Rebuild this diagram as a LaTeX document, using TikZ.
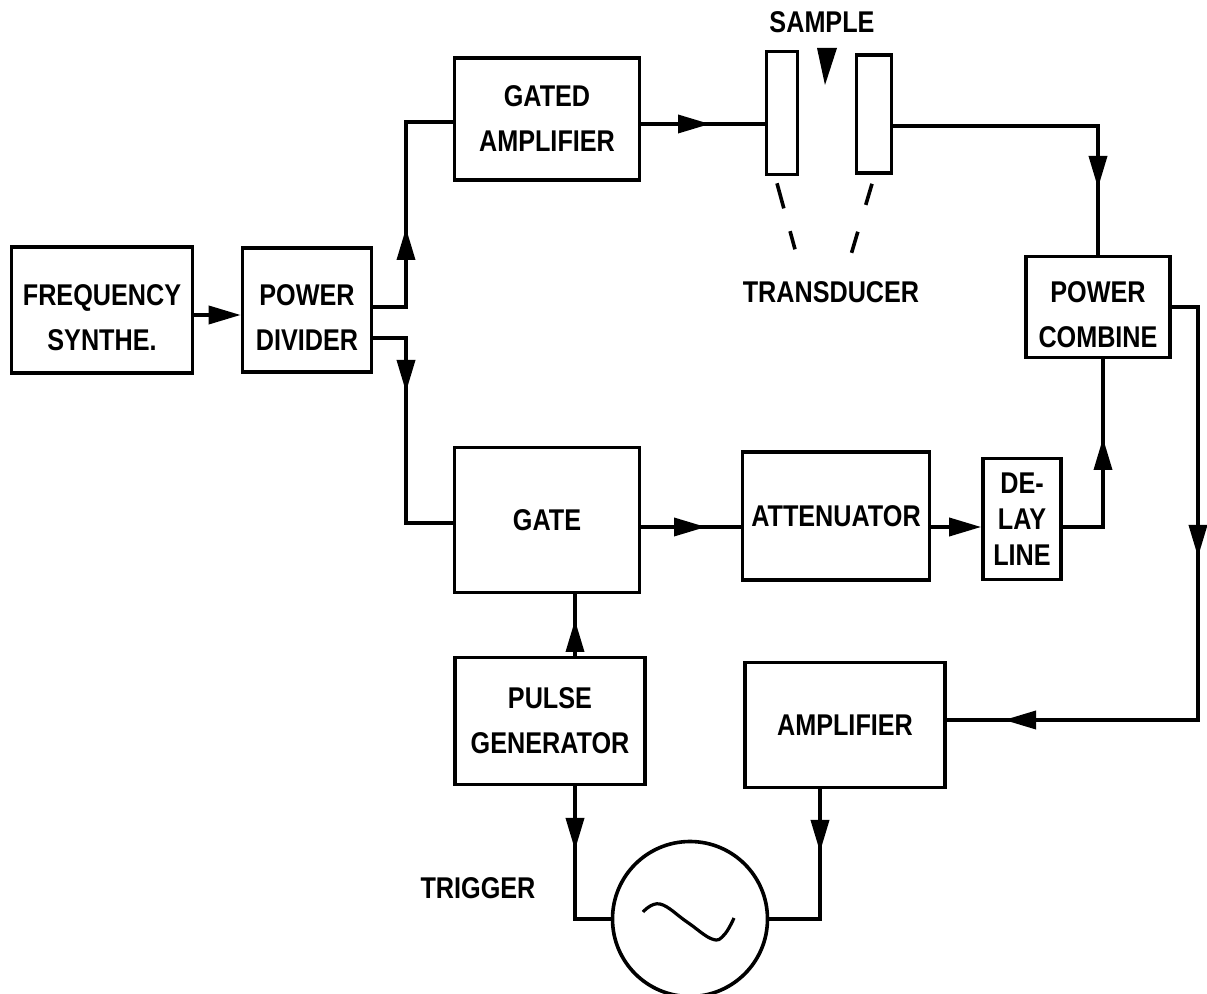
\documentclass[tikz,border=0pt]{standalone}
\usepackage{fontspec}
\setmainfont{Liberation Sans}[FakeStretch=0.84]
\usetikzlibrary{arrows.meta, positioning}

\begin{document}
\begin{tikzpicture}[x=0.5pt, y=-0.5pt,
  blk/.style={draw, line width=1.8pt, align=center, inner sep=0pt,
    font=\bfseries\fontsize{15}{22.5}\selectfont},
  lbl/.style={font=\bfseries\fontsize{15}{22.5}\selectfont},
  wire/.style={line width=1.8pt},
  fwd/.style={wire, -{Triangle[length=16pt, width=9pt]}},
  lead/.style={line width=1.8pt}]
  \useasboundingbox (0,0) rectangle (1207,994);

  % blocks
  \node[blk, minimum width=90.5pt, minimum height=63pt] (synth) at (102,310) {\rule{0pt}{18pt}FREQUENCY\\SYNTHE.};
  \node[blk, minimum width=64.5pt, minimum height=62pt] (divider) at (307,310) {\rule{0pt}{18pt}POWER\\DIVIDER};
  \node[blk, minimum width=92.5pt, minimum height=61pt] (gamp) at (547,119) {GATED\\AMPLIFIER};
  \node[blk, minimum width=15.5pt, minimum height=61.5pt] (tdL) at (782,113) {};
  \node[blk, minimum width=17.5pt, minimum height=59pt] (tdR) at (874,114) {};
  \node[blk, minimum width=72pt, minimum height=50.5pt] (pcomb) at (1098,307) {\rule{0pt}{18pt}POWER\\COMBINE};
  \node[blk, minimum width=92.5pt, minimum height=72.5pt] (gate) at (547,520) {GATE};
  \node[blk, minimum width=93.5pt, minimum height=64pt] (atten) at (836,516) {ATTENUATOR};
  \node[blk, minimum width=39pt, minimum height=60.5pt, font=\bfseries\fontsize{15}{18}\selectfont] (delay) at (1022,519) {DE-\\LAY\\LINE};
  \node[blk, minimum width=95pt, minimum height=63.5pt] (pulse) at (550,721) {PULSE\\GENERATOR};
  \node[blk, minimum width=100pt, minimum height=62.5pt] (amp) at (845,725) {AMPLIFIER};
  \node[draw, circle, line width=1.8pt, minimum size=77.5pt, inner sep=0pt] (osc) at (690,919) {};

  % labels
  \node[lbl] (sample) at (822,22) {SAMPLE};
  \node[lbl] (trans) at (831,292) {TRANSDUCER};
  \node[lbl] (trig) at (478,888) {TRIGGER};

  % bends and arrow tips
  \coordinate (splitU) at (406,307);
  \coordinate (splitD) at (406,338);
  \coordinate (cornerU) at (406,122);
  \coordinate (cornerD) at (406,523);
  \coordinate (cornerC) at (1098,126);
  \coordinate (cornerE) at (1198,720);
  \coordinate (cornerF) at (1198,307);
  \coordinate (cornerG) at (1103,527);
  \coordinate (tipU) at (406,228);
  \coordinate (tipD) at (406,392);
  \coordinate (tipT) at (710,124);
  \coordinate (tipC) at (1098,188);
  \coordinate (tipF) at (1198,557);
  \coordinate (tipE) at (1004,720);
  \coordinate (tipG) at (1103,438);
  \coordinate (tipA) at (706,527);
  \coordinate (tipP) at (575,620);
  \coordinate (tipQ) at (575,850);
  \coordinate (tipR) at (820,852);

  % connectors
  \draw[fwd] ([yshift=-2.5pt]synth.east) -- ([yshift=-2.5pt]divider.west);
  \draw[wire] ([yshift=1.5pt]divider.east) -| (cornerU) -- (cornerU -| gamp.west);
  \draw[fwd] (splitU) -- (tipU);
  \draw[wire] ([yshift=-14pt]divider.east) -| (cornerD) -- (cornerD -| gate.west);
  \draw[fwd] (splitD) -- (tipD);
  \draw[wire] ([yshift=-2.5pt]gamp.east) -- ([yshift=-2.5pt]gamp.east -| tdL.west);
  \draw[fwd] ([yshift=-2.5pt]gamp.east) -- (tipT);
  \draw[wire] ([yshift=-6pt]tdR.east) -- (cornerC) -- (pcomb.north);
  \draw[fwd] (cornerC) -- (tipC);
  \draw[wire] (pcomb.east) -- (cornerF) -- (cornerE) -- ([yshift=2.5pt]amp.east);
  \draw[fwd] (cornerF) -- (tipF);
  \draw[fwd] (cornerE) -- (tipE);
  \draw[wire] ([xshift=2.5pt]pcomb.south) -- (cornerG) -- (cornerG -| delay.east);
  \draw[fwd] (cornerG) -- (tipG);
  \draw[wire] ([yshift=-3.5pt]gate.east) -- ([yshift=-3.5pt]gate.east -| atten.west);
  \draw[fwd] ([yshift=-3.5pt]gate.east) -- (tipA);
  \draw[fwd] ([yshift=-5.5pt]atten.east) -- ([yshift=-5.5pt]atten.east -| delay.west);
  \draw[wire] ([xshift=12.5pt]pulse.north) -- ([xshift=12.5pt]pulse.north |- gate.south);
  \draw[fwd] ([xshift=12.5pt]pulse.north) -- (tipP);
  \draw[wire] ([xshift=12.5pt]pulse.south) |- (osc.west);
  \draw[fwd] ([xshift=12.5pt]pulse.south) -- (tipQ);
  \draw[wire] ([xshift=-12.5pt]amp.south) |- (osc.east);
  \draw[fwd] ([xshift=-12.5pt]amp.south) -- (tipR);

  % sample marker and transducer leads
  \fill (817,48) -- (837,48) -- (825,85) -- cycle;
  \draw[lead, dash pattern=on 13pt off 11.8pt] ([shift={(-2.5pt,-3.5pt)}]tdL.south) -- ++(9pt,-33pt);
  \draw[lead, dash pattern=on 11pt off 14pt] ([shift={(-1pt,-4.5pt)}]tdR.south) -- ++(-10.5pt,-35.5pt);

  % sine inside the oscillator
  \draw[line width=1.6pt] plot[smooth, tension=0.7] coordinates {(643,912) (660,904) (687,922) (712,939) (724,935) (734,918)};
\end{tikzpicture}
\end{document}
